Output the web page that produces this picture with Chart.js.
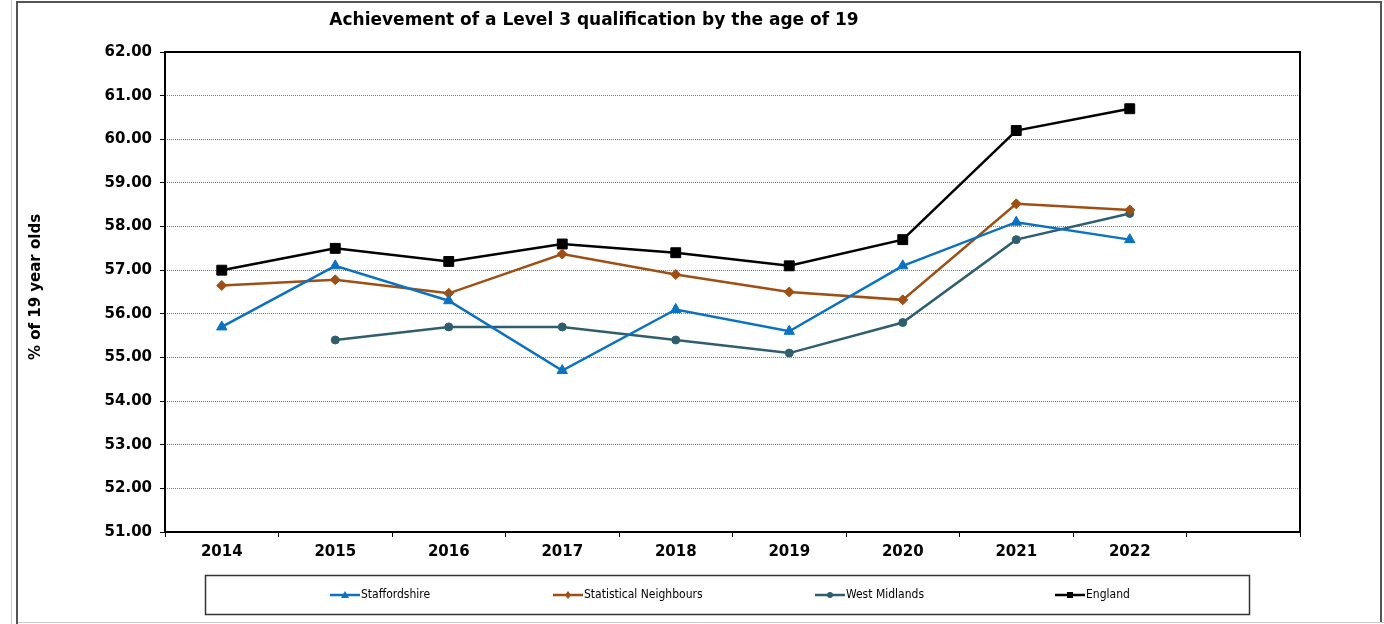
<!DOCTYPE html>
<html lang="en">
<head>
  <meta charset="UTF-8" />
  <title>Achievement of a Level 3 qualification by the age of 19</title>
  <script src="https://cdn.jsdelivr.net/npm/chart.js"></script>
  <style>
    html, body {
      margin: 0;
      padding: 0;
      background: #fff;
    }
    #wrap {
      width: 1384px;
      height: 624px;
      position: relative;
    }
  </style>
</head>
<body>
  <div id="wrap"><canvas id="l3Chart" width="1384" height="624"></canvas></div>

  <script>
    // data
    const years = ['2014', '2015', '2016', '2017', '2018', '2019', '2020', '2021', '2022', ''];
    const staffordshire = [55.7, 57.1, 56.3, 54.7, 56.1, 55.6, 57.1, 58.1, 57.7, null];
    const statNeighbours = [56.65, 56.78, 56.47, 57.37, 56.9, 56.5, 56.32, 58.52, 58.38, null];
    const westMidlands = [null, 55.4, 55.7, 55.7, 55.4, 55.1, 55.8, 57.7, 58.3, null];
    const england = [57.0, 57.5, 57.2, 57.6, 57.4, 57.1, 57.7, 60.2, 60.7, null];
    const yTicks = [51, 52, 53, 54, 55, 56, 57, 58, 59, 60, 61, 62];

    const boldFont = 'DejaVu Sans, Verdana, sans-serif';
    const legendFont = "'Liberation Sans Narrow', 'DejaVu Sans Condensed', sans-serif";

    // frame, titles, plot box and the boxed legend
    const decor = {
      id: 'decor',
      beforeDatasetsDraw(chart) {
        const { ctx, chartArea: a } = chart;
        ctx.save();
        ctx.strokeStyle = '#000';
        ctx.lineWidth = 2;
        ctx.strokeRect(a.left, a.top, a.right - a.left, a.bottom - a.top);
        ctx.restore();
      },
      afterDraw(chart) {
        const { ctx } = chart;
        ctx.save();
        // outer frame
        ctx.strokeStyle = '#c8c8c8';
        ctx.lineWidth = 1;
        ctx.beginPath();
        ctx.moveTo(11.5, 0); ctx.lineTo(11.5, 624);
        ctx.moveTo(17, 622.5); ctx.lineTo(1384, 622.5);
        ctx.stroke();
        ctx.strokeStyle = '#555';
        ctx.lineWidth = 2;
        ctx.beginPath();
        ctx.moveTo(17, 624); ctx.lineTo(17, 2); ctx.lineTo(1381, 2); ctx.lineTo(1381, 622);
        ctx.stroke();

        // title
        ctx.fillStyle = '#000';
        ctx.font = 'bold 17px ' + boldFont;
        ctx.textAlign = 'center';
        ctx.textBaseline = 'middle';
        ctx.fillText('Achievement of a Level 3 qualification by the age of 19', 594, 21);

        // y axis title
        ctx.save();
        ctx.translate(36, 287);
        ctx.rotate(-Math.PI / 2);
        ctx.font = 'bold 15px ' + boldFont;
        ctx.fillText('% of 19 year olds', 0, 0);
        ctx.restore();

        // legend box
        ctx.strokeStyle = '#333';
        ctx.lineWidth = 1.5;
        ctx.strokeRect(205.5, 575.5, 1044, 39);
        const starts = [330, 553, 815, 1055];
        ctx.font = '12px ' + legendFont;
        ctx.textAlign = 'left';
        chart.data.datasets.forEach((ds, i) => {
          const x = starts[i], y = 595;
          ctx.strokeStyle = ds.borderColor;
          ctx.lineWidth = 2.5;
          ctx.beginPath();
          ctx.moveTo(x, y); ctx.lineTo(x + 30, y);
          ctx.stroke();
          ctx.fillStyle = ds.borderColor;
          const r = 3;
          ctx.beginPath();
          if (ds.pointStyle === 'rect') {
            ctx.rect(x + 15 - r, y - r, 2 * r, 2 * r);
          } else if (ds.pointStyle === 'triangle') {
            ctx.moveTo(x + 15, y - r - 1); ctx.lineTo(x + 15 + r + 1, y + r); ctx.lineTo(x + 15 - r - 1, y + r);
          } else if (ds.pointStyle === 'rectRot') {
            ctx.moveTo(x + 15, y - r - 1); ctx.lineTo(x + 15 + r, y); ctx.lineTo(x + 15, y + r + 1); ctx.lineTo(x + 15 - r, y);
          } else {
            ctx.arc(x + 15, y, r, 0, Math.PI * 2);
          }
          ctx.fill();
          ctx.fillStyle = '#000';
          ctx.fillText(ds.label, x + 31, y);
        });
        ctx.restore();
      }
    };

    function series(label, data, color, style, radius) {
      return {
        label: label,
        data: data,
        borderColor: color,
        backgroundColor: color,
        borderWidth: 2.5,
        pointStyle: style,
        pointRadius: radius,
        pointHoverRadius: radius,
        pointBorderWidth: 1,
        tension: 0,
        spanGaps: false
      };
    }

    new Chart(document.getElementById('l3Chart'), {
      type: 'line',
      data: {
        labels: years,
        datasets: [
          series('Staffordshire', staffordshire, '#0b72c2', 'triangle', 6),
          series('Statistical Neighbours', statNeighbours, '#9e4f14', 'rectRot', 5),
          series('West Midlands', westMidlands, '#2f5f6e', 'circle', 4),
          series('England', england, '#000000', 'rect', 7)
        ]
      },
      plugins: [decor],
      options: {
        responsive: false,
        animation: false,
        layout: { padding: { top: 52, right: 84, bottom: 52, left: 0 } },
        plugins: {
          legend: { display: false },
          title: { display: false },
          tooltip: { enabled: false }
        },
        scales: {
          x: {
            offset: true,
            afterFit(scale) { scale.height = 40; },
            grid: {
              offset: true,
              drawOnChartArea: false,
              tickLength: 5,
              tickColor: '#000',
              tickWidth: 1
            },
            border: { display: false },
            ticks: {
              color: '#000',
              font: { family: boldFont, size: 15, weight: 'bold' },
              padding: 6,
              autoSkip: false,
              maxRotation: 0
            }
          },
          y: {
            min: 51,
            max: 62,
            afterFit(scale) { scale.width = 165; },
            afterBuildTicks(scale) { scale.ticks = yTicks.map(v => ({ value: v })); },
            grid: {
              color: '#7a7a7a',
              lineWidth: 1,
              tickLength: 5,
              tickColor: '#000',
              tickWidth: 1,
              tickBorderDash: []
            },
            border: { display: false, dash: [1, 1] },
            ticks: {
              color: '#000',
              font: { family: boldFont, size: 15, weight: 'bold' },
              padding: 8,
              callback: v => Number(v).toFixed(2)
            }
          }
        }
      }
    });
  </script>
</body>
</html>
